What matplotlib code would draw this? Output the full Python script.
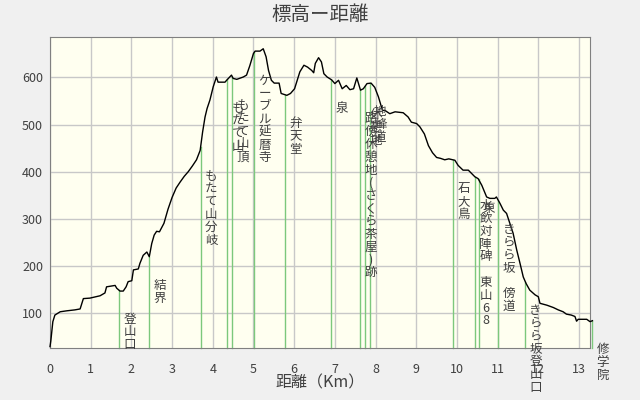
import matplotlib
matplotlib.use("Agg")
import matplotlib.pyplot as plt
import numpy as np

plt.rcParams['font.family'] = ['Noto Sans CJK JP', 'DejaVu Sans']

# profile: distance (km) / elevation (m)
dist = [0.00, 0.02, 0.04, 0.07, 0.12, 0.25, 0.41, 0.61, 0.74, 0.82, 0.98, 1.23, 1.35,
        1.39, 1.52, 1.60, 1.64, 1.72, 1.80, 1.87, 1.92, 2.01, 2.05, 2.17, 2.21, 2.29,
        2.38, 2.44, 2.50, 2.56, 2.62, 2.69, 2.80, 2.90, 3.00, 3.10, 3.20, 3.30, 3.40,
        3.50, 3.60, 3.69, 3.75, 3.81, 3.86, 3.93, 4.01, 4.09, 4.13, 4.30, 4.34, 4.46,
        4.50, 4.59, 4.75, 4.83, 4.91, 5.00, 5.04, 5.16, 5.24, 5.31, 5.37, 5.44, 5.51,
        5.63, 5.68, 5.82, 5.91, 6.01, 6.14, 6.24, 6.33, 6.43, 6.48, 6.52, 6.60, 6.67,
        6.73, 6.81, 6.92, 7.00, 7.09, 7.18, 7.28, 7.37, 7.46, 7.54, 7.63, 7.70, 7.79,
        7.89, 7.98, 8.07, 8.17, 8.23, 8.35, 8.48, 8.68, 8.80, 8.88, 9.01, 9.09, 9.20,
        9.30, 9.40, 9.50, 9.60, 9.70, 9.80, 9.95, 10.03, 10.15, 10.28, 10.36, 10.44,
        10.52, 10.61, 10.73, 10.81, 10.93, 10.97, 11.06, 11.14, 11.22, 11.30, 11.38,
        11.47, 11.55, 11.63, 11.70, 11.79, 11.92, 12.00, 12.04, 12.21, 12.37, 12.49,
        12.61, 12.69, 12.81, 12.90, 12.94, 12.98, 13.19, 13.27, 13.33]
elev = [28, 40, 57, 81, 95, 102, 104, 106, 108, 130, 131, 136, 142,
        155, 157, 158, 152, 146, 146, 155, 166, 168, 191, 193, 205, 222,
        229, 219, 247, 265, 273, 272, 290, 320, 345, 365, 378, 390, 400,
        412, 425, 445, 484, 516, 534, 552, 580, 601, 590, 590, 594, 605,
        598, 596, 601, 605, 625, 651, 656, 656, 661, 644, 615, 594, 588,
        588, 566, 562, 566, 576, 612, 626, 622, 615, 610, 630, 642, 633,
        608, 601, 595, 587, 594, 576, 583, 574, 576, 599, 573, 576, 587,
        588, 579, 559, 530, 530, 523, 527, 525, 516, 505, 502, 495, 480,
        455, 440, 430, 428, 425, 427, 424, 413, 403, 403, 396, 389,
        385, 371, 346, 343, 343, 346, 332, 318, 311, 290, 269,
        233, 205, 176, 162, 148, 138, 134, 120, 116, 111, 106,
        102, 97, 95, 92, 82, 86, 86, 81, 83]

# waypoints
mark_km = [1.70, 2.44, 3.70, 4.36, 4.48, 5.02, 5.78, 6.91, 7.63, 7.75, 7.86,
           9.91, 10.45, 10.53, 11.02, 11.68, 13.33]
mark_name = ['登山口', '結界', 'もたて山分岐', 'もたて山', 'もたて山頂', 'ケーブル延暦寺',
             '弁天堂', '泉', '路傍休憩地(さくら茶屋)跡', '休憩地', '地峰道',
             '石大鳥', '水飲対陣碑 東山68', '東', 'きらら坂 傍道', 'きらら坂登山口', '修学院']

fig = plt.figure(figsize=(6.4, 4.0), dpi=100, facecolor='#F0F0F0')
ax = fig.add_axes([50/640, 52/400, 540/640, 311/400])
ax.set_facecolor('#FFFFF0')

ymin, ymax = 25, 686
ax.set_xlim(0, 13.27)
ax.set_ylim(ymin, ymax)
ax.set_xticks(range(0, 14))
ax.set_yticks(range(100, 700, 100))
ax.grid(True, color='#C8C8C8', lw=1)
ax.set_axisbelow(True)
for s in ax.spines.values():
    s.set_color('#808080')
ax.tick_params(length=0, labelsize=9, labelcolor='#404040')
ax.tick_params(axis='x', pad=11)
ax.tick_params(axis='y', pad=5)

# green marker lines up to the profile
mark_elev = np.interp(mark_km, dist, elev)
for km, e, name in zip(mark_km, mark_elev, mark_name):
    ax.plot([km, km], [ymin, e], color='#7CC87C', lw=1, clip_on=False, zorder=2)
    ax.annotate('\n'.join(name), xy=(km, e), xytext=(7.5, -16),
                textcoords='offset points', ha='center', va='top',
                fontsize=9, linespacing=0.98, color='#404040',
                annotation_clip=False, zorder=4)

ax.plot(dist, elev, color='black', lw=1, clip_on=False, zorder=3)

fig.text(0.5, 1 - 14/400, '標高ー距離', ha='center', va='center',
         fontsize=14, color='#404040')
fig.text(0.5, 1 - 383/400, '距離（Km）', ha='center', va='center',
         fontsize=11.5, color='#404040')

fig.savefig('out.png', dpi=100, facecolor=fig.get_facecolor())
